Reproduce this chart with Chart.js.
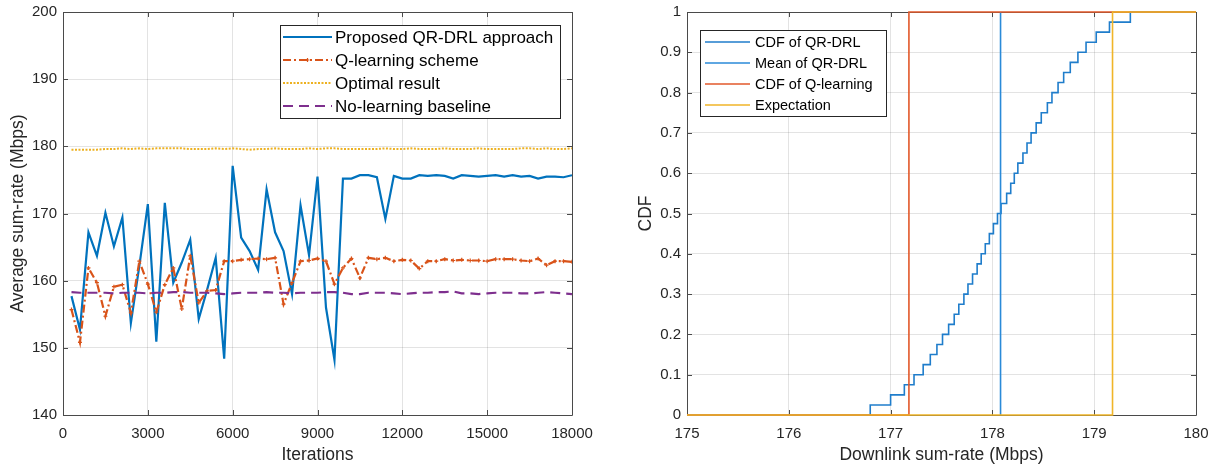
<!DOCTYPE html>
<html>
<head>
<meta charset="utf-8">
<script src="https://cdn.jsdelivr.net/npm/chart.js@4"></script>
<style>
  html, body { margin: 0; padding: 0; background: #fff; }
  #wrap { position: relative; width: 1215px; height: 466px; }
  canvas { position: absolute; top: 0; }
  #left { left: 0; }
  #right { left: 600px; }
</style>
</head>
<body>
<div id="wrap">
  <canvas id="left" width="600" height="466"></canvas>
  <canvas id="right" width="615" height="466"></canvas>
</div>
<script>
// left panel: sum-rate vs iterations
const iterations = [300, 600, 900, 1200, 1500, 1800, 2100, 2400, 2700, 3000,
  3300, 3600, 3900, 4200, 4500, 4800, 5100, 5400, 5700, 6000,
  6300, 6600, 6900, 7200, 7500, 7800, 8100, 8400, 8700, 9000,
  9300, 9600, 9900, 10200, 10500, 10800, 11100, 11400, 11700, 12000,
  12300, 12600, 12900, 13200, 13500, 13800, 14100, 14400, 14700, 15000,
  15300, 15600, 15900, 16200, 16500, 16800, 17100, 17400, 17700, 18000];

const qrdrl = [157.7, 152.7, 167.2, 163.7, 170.1, 165.1, 169.4, 153.7, 162.2, 171.4,
  150.9, 171.6, 159.7, 162.7, 166.1, 154.3, 158.7, 163.4, 148.4, 177.1,
  166.4, 164.4, 161.6, 173.6, 167.2, 164.4, 158.0, 171.2, 163.8, 175.5,
  156.0, 148.2, 175.2, 175.2, 175.7, 175.7, 175.4, 169.2, 175.6, 175.2,
  175.2, 175.7, 175.6, 175.7, 175.6, 175.2, 175.7, 175.6, 175.5, 175.6,
  175.7, 175.5, 175.7, 175.5, 175.6, 175.2, 175.5, 175.5, 175.4, 175.7];

const qlearning = [155.7, 150.8, 161.9, 159.7, 154.7, 159.1, 159.4, 155.2, 162.9, 159.5,
  155.3, 159.4, 161.9, 155.8, 163.7, 156.7, 158.5, 158.6, 162.9, 162.9,
  163.1, 163.2, 163.3, 163.2, 163.4, 156.5, 159.7, 162.9, 163.0, 163.3,
  162.9, 159.5, 161.9, 163.3, 160.4, 163.4, 163.2, 163.4, 162.9, 163.1,
  163.0, 161.8, 162.9, 162.9, 163.2, 163.0, 163.1, 163.0, 163.0, 162.9,
  163.2, 163.2, 163.2, 163.0, 162.9, 163.3, 162.3, 162.9, 162.9, 162.8];

const optimal = [179.5, 179.5, 179.5, 179.5, 179.6, 179.6, 179.7, 179.6, 179.7, 179.6,
  179.7, 179.7, 179.7, 179.7, 179.6, 179.6, 179.6, 179.7, 179.6, 179.7,
  179.6, 179.5, 179.6, 179.6, 179.7, 179.6, 179.6, 179.6, 179.7, 179.6,
  179.7, 179.7, 179.6, 179.6, 179.6, 179.6, 179.6, 179.7, 179.6, 179.6,
  179.7, 179.6, 179.6, 179.6, 179.7, 179.6, 179.6, 179.6, 179.7, 179.6,
  179.6, 179.6, 179.6, 179.7, 179.7, 179.6, 179.7, 179.6, 179.6, 179.7];

const noLearning = [158.3, 158.2, 158.2, 158.2, 158.2, 158.1, 158.2, 158.2, 158.2, 158.1,
  158.2, 158.2, 158.3, 158.3, 158.2, 158.2, 158.2, 158.1, 158.0, 158.1,
  158.2, 158.2, 158.2, 158.3, 158.2, 158.2, 158.1, 158.2, 158.2, 158.2,
  158.3, 158.3, 158.2, 158.0, 158.0, 158.2, 158.2, 158.2, 158.1, 158.0,
  158.1, 158.2, 158.2, 158.3, 158.3, 158.4, 158.1, 158.1, 158.0, 158.1,
  158.2, 158.2, 158.2, 158.1, 158.1, 158.2, 158.3, 158.2, 158.1, 158.0];

const iterTicks = [0, 3000, 6000, 9000, 12000, 15000, 18000];
const rateTicks = [140, 150, 160, 170, 180, 190, 200];

// right panel: CDF of downlink sum-rate
const qrdrlSamples = [176.80, 177.00, 177.135, 177.23, 177.32, 177.39, 177.455, 177.51, 177.57, 177.625,
  177.67, 177.72, 177.76, 177.805, 177.85, 177.89, 177.93, 177.97, 178.01, 178.05,
  178.085, 178.14, 178.18, 178.215, 178.25, 178.30, 178.34, 178.38, 178.43, 178.48,
  178.54, 178.585, 178.645, 178.70, 178.765, 178.84, 178.92, 179.02, 179.15, 179.355];
const qrdrlMean = 178.08;
const qlearningRate = 177.18;
const expectationRate = 179.18;

const sumRateTicks = [175, 176, 177, 178, 179, 180];
const cdfTicks = [0, 0.1, 0.2, 0.3, 0.4, 0.5, 0.6, 0.7, 0.8, 0.9, 1];

const FONT = "'Liberation Sans', Arial, Helvetica, sans-serif";
const TXT = '#262626';
const GRID = 'rgba(0,0,0,0.11)';

const blue = '#0072BD', orange = '#D95319', yellow = '#EDB120', purple = '#7E2F8E';

// axes box with inward ticks, matlab style
const frame = {
  id: 'frame',
  beforeDatasetsDraw(chart) {
    const { ctx, chartArea: a, scales } = chart;
    ctx.save();
    ctx.strokeStyle = '#4a4a4a';
    ctx.lineWidth = 1;
    ctx.beginPath();
    ctx.rect(Math.round(a.left) + 0.5, Math.round(a.top) + 0.5,
      Math.round(a.right - a.left), Math.round(a.bottom - a.top));
    const t = 5;
    scales.x.ticks.forEach(tk => {
      const x = Math.round(scales.x.getPixelForValue(tk.value)) + 0.5;
      ctx.moveTo(x, a.bottom); ctx.lineTo(x, a.bottom - t);
      ctx.moveTo(x, a.top); ctx.lineTo(x, a.top + t);
    });
    scales.y.ticks.forEach(tk => {
      const y = Math.round(scales.y.getPixelForValue(tk.value)) + 0.5;
      ctx.moveTo(a.left, y); ctx.lineTo(a.left + t, y);
      ctx.moveTo(a.right, y); ctx.lineTo(a.right - t, y);
    });
    ctx.stroke();
    ctx.restore();
  }
};

// boxed legend drawn inside the plot
const boxLegend = {
  id: 'boxLegend',
  afterDraw(chart, args, o) {
    if (!o || !o.w) return;
    const ctx = chart.ctx;
    ctx.save();
    ctx.fillStyle = '#fff';
    ctx.fillRect(o.x, o.y, o.w, o.h);
    ctx.strokeStyle = '#262626';
    ctx.lineWidth = 1;
    ctx.strokeRect(o.x + 0.5, o.y + 0.5, o.w, o.h);
    ctx.font = o.font;
    ctx.textBaseline = 'middle';
    chart.data.datasets.forEach((ds, i) => {
      const y = o.y + o.first + i * o.row;
      ctx.strokeStyle = ds.borderColor;
      ctx.lineWidth = ds.borderWidth;
      ctx.setLineDash(ds.borderDash || []);
      ctx.beginPath();
      ctx.moveTo(o.x + o.s0, y);
      ctx.lineTo(o.x + o.s1, y);
      ctx.stroke();
      ctx.setLineDash([]);
      if (ds.pointStyle === 'cross' && ds.pointRadius > 0) {
        const cx = o.x + (o.s0 + o.s1) / 2, r = ds.pointRadius;
        ctx.lineWidth = ds.pointBorderWidth || 1;
        ctx.beginPath();
        ctx.moveTo(cx - r, y); ctx.lineTo(cx + r, y);
        ctx.moveTo(cx, y - r); ctx.lineTo(cx, y + r);
        ctx.stroke();
      }
      ctx.fillStyle = '#000';
      ctx.fillText(ds.label, o.x + o.tx, y + 1);
    });
    ctx.restore();
  }
};

function pts(xs, ys) {
  return ys.map((v, i) => ({ x: xs[i], y: v }));
}

function axis(min, max, tickList, title, fitProp, fitVal, titlePad, tickPad) {
  return {
    type: 'linear', min, max,
    afterBuildTicks: s => { s.ticks = tickList.map(v => ({ value: v })); },
    afterFit: s => {
      s[fitProp] = fitVal;
      // let layout.padding alone decide where the plot box sits
      s.paddingTop = 0; s.paddingBottom = 0; s.paddingLeft = 0; s.paddingRight = 0;
    },
    ticks: {
      callback: v => String(v), color: TXT, padding: tickPad,
      font: { family: FONT, size: 15 }, maxRotation: 0, autoSkip: false
    },
    grid: { color: GRID, drawTicks: false, lineWidth: 1 },
    border: { display: false },
    title: {
      display: true, text: title, color: TXT, padding: titlePad,
      font: { family: FONT, size: 17.5 }
    }
  };
}

Chart.defaults.font.family = FONT;

new Chart(document.getElementById('left'), {
  type: 'line',
  data: {
    datasets: [
      { label: 'Proposed QR-DRL approach', data: pts(iterations, qrdrl), borderColor: blue,
        borderWidth: 2.2, pointRadius: 0, order: 3 },
      { label: 'Q-learning scheme', data: pts(iterations, qlearning), borderColor: orange,
        borderWidth: 2.2, borderDash: [8, 3, 2, 3], pointStyle: 'cross', pointRadius: 2,
        pointBorderWidth: 1.2, pointBorderColor: orange, order: 2 },
      { label: 'Optimal result', data: pts(iterations, optimal), borderColor: yellow,
        borderWidth: 2, borderDash: [2, 1.5], pointRadius: 0, order: 1 },
      { label: 'No-learning baseline', data: pts(iterations, noLearning), borderColor: purple,
        borderWidth: 2.2, borderDash: [10, 6], pointRadius: 0, order: 0 }
    ]
  },
  options: {
    responsive: false, animation: false, events: [],
    layout: { padding: { top: 12, right: 28, left: 0, bottom: 0 } },
    scales: {
      x: axis(0, 18000, iterTicks, 'Iterations', 'height', 51, { top: 0, bottom: 0 }, 10),
      y: axis(140, 200, rateTicks, 'Average sum-rate (Mbps)', 'width', 63, { top: 8, bottom: 0 }, 6)
    },
    plugins: {
      legend: { display: false }, tooltip: { enabled: false },
      boxLegend: { x: 280, y: 25, w: 280, h: 93, first: 12, row: 23, s0: 3, s1: 52, tx: 55,
        font: '17px ' + FONT }
    }
  },
  plugins: [frame, boxLegend]
});

const cdfPoints = [{ x: 175, y: 0 }]
  .concat(qrdrlSamples.map((v, i) => ({ x: v, y: (i + 1) / qrdrlSamples.length })))
  .concat([{ x: 180, y: 1 }]);

new Chart(document.getElementById('right'), {
  type: 'line',
  data: {
    datasets: [
      { label: 'CDF of QR-DRL', data: cdfPoints, borderColor: '#1f7dcb', borderWidth: 1.6,
        stepped: 'before', pointRadius: 0, clip: 3, order: 3 },
      { label: 'Mean of QR-DRL', data: [{ x: qrdrlMean, y: 0 }, { x: qrdrlMean, y: 1 }],
        borderColor: '#2a8ad8', borderWidth: 1.6, pointRadius: 0, clip: 3, order: 2 },
      { label: 'CDF of Q-learning',
        data: [{ x: 175, y: 0 }, { x: qlearningRate, y: 1 }, { x: 180, y: 1 }],
        borderColor: '#e2592b', borderWidth: 1.6, stepped: 'before', pointRadius: 0, clip: 3, order: 1 },
      { label: 'Expectation',
        data: [{ x: 175, y: 0 }, { x: expectationRate, y: 1 }, { x: 180, y: 1 }],
        borderColor: '#F0B528', borderWidth: 1.6, stepped: 'before', pointRadius: 0, clip: 3, order: 0 }
    ]
  },
  options: {
    responsive: false, animation: false, events: [],
    layout: { padding: { top: 12, right: 19, left: 0, bottom: 0 } },
    scales: {
      x: axis(175, 180, sumRateTicks, 'Downlink sum-rate (Mbps)', 'height', 51, { top: 0, bottom: 0 }, 10),
      y: axis(0, 1, cdfTicks, 'CDF', 'width', 87, { top: 36, bottom: 0 }, 6)
    },
    plugins: {
      legend: { display: false }, tooltip: { enabled: false },
      boxLegend: { x: 100, y: 30, w: 186, h: 86, first: 12, row: 21, s0: 5, s1: 50, tx: 55,
        font: '14.5px ' + FONT }
    }
  },
  plugins: [frame, boxLegend]
});
</script>
</body>
</html>
